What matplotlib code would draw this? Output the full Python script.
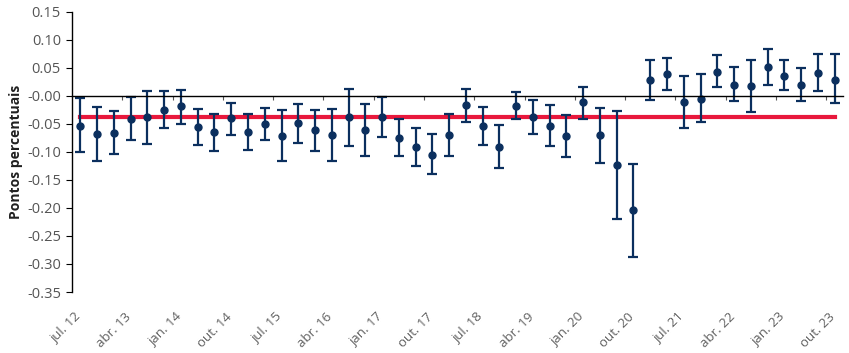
import numpy as np
import matplotlib.pyplot as plt
from matplotlib import transforms

# quarterly estimates, jul.12 .. out.23
estimate = [-0.054, -0.068, -0.067, -0.042, -0.038, -0.025, -0.019, -0.055, -0.065, -0.040,
            -0.065, -0.050, -0.072, -0.048, -0.061, -0.070, -0.038, -0.061, -0.038, -0.075,
            -0.091, -0.105, -0.070, -0.017, -0.054, -0.091, -0.018, -0.038, -0.054, -0.071,
            -0.011, -0.070, -0.123, -0.204, 0.029, 0.038, -0.011, -0.005, 0.043, 0.020,
            0.017, 0.052, 0.036, 0.019, 0.040, 0.029]
upper = [-0.004, -0.020, -0.027, -0.003, 0.009, 0.009, 0.011, -0.024, -0.032, -0.012,
         -0.033, -0.022, -0.025, -0.015, -0.025, -0.024, 0.013, -0.015, -0.003, -0.042,
         -0.057, -0.068, -0.033, 0.013, -0.020, -0.052, 0.006, -0.008, -0.017, -0.034,
         0.016, -0.022, -0.027, -0.121, 0.064, 0.068, 0.035, 0.038, 0.072, 0.052,
         0.063, 0.084, 0.063, 0.049, 0.074, 0.074]
lower = [-0.101, -0.117, -0.103, -0.078, -0.086, -0.058, -0.050, -0.087, -0.098, -0.070,
         -0.096, -0.078, -0.116, -0.084, -0.098, -0.116, -0.089, -0.107, -0.073, -0.108,
         -0.126, -0.140, -0.107, -0.047, -0.087, -0.128, -0.042, -0.068, -0.089, -0.110,
         -0.042, -0.119, -0.220, -0.287, -0.008, 0.010, -0.057, -0.047, 0.015, -0.010,
         -0.029, 0.020, 0.010, -0.010, 0.008, -0.013]
mean_level = -0.0377
tick_labels = ['jul. 12', 'abr. 13', 'jan. 14', 'out. 14', 'jul. 15', 'abr. 16', 'jan. 17', 'out. 17',
               'jul. 18', 'abr. 19', 'jan. 20', 'out. 20', 'jul. 21', 'abr. 22', 'jan. 23', 'out. 23']

plt.rcParams['font.family'] = ['Open Sans', 'DejaVu Sans']

navy = '#0b2f5e'
red = '#e8183c'

x = np.arange(len(estimate))
est = np.array(estimate)
yerr = np.vstack([est - np.array(lower), np.array(upper) - est])

fig = plt.figure(figsize=(8.49, 3.53), dpi=100)
ax = fig.add_axes([72 / 849, 1 - 292 / 353, (843 - 72) / 849, (292 - 11.7) / 353])

ax.plot([x[0], x[-1]], [mean_level, mean_level], color=red, lw=3, zorder=1)
ax.errorbar(x, est, yerr=yerr, fmt='o', color=navy, ms=5, elinewidth=1.6,
            capsize=3.5, capthick=1.6, zorder=2)

ax.set_xlim(-0.5, len(x) - 0.5)
ax.set_ylim(-0.35, 0.15)
ax.set_yticks(np.arange(-0.35, 0.151, 0.05))
ax.set_yticklabels([f'{v:.2f}' for v in np.arange(-0.35, 0.151, 0.05)])
ax.tick_params(axis='y', length=4, width=0.8, colors='black', labelcolor='#555555', labelsize=10.5, pad=4)

for s in ['top', 'right']:
    ax.spines[s].set_visible(False)
ax.spines['bottom'].set_position(('data', 0))
ax.spines['bottom'].set_linewidth(1)
ax.spines['left'].set_linewidth(1)

ax.set_xticks(np.arange(2.5, len(x), 3))
ax.set_xticklabels([])
ax.tick_params(axis='x', length=3, width=0.8, colors='#555555')

trans = transforms.blended_transform_factory(ax.transData, ax.transAxes)
for i, lab in zip(x[::3], tick_labels):
    ax.text(i + 0.2, -0.065, lab, transform=trans, rotation=45, ha='right', va='top',
            fontsize=9.5, color='#606060')

ax.set_ylabel('Pontos percentuais', fontsize=10, fontweight='bold', color='#202020', labelpad=3)

fig.savefig('out.png', dpi=100)
